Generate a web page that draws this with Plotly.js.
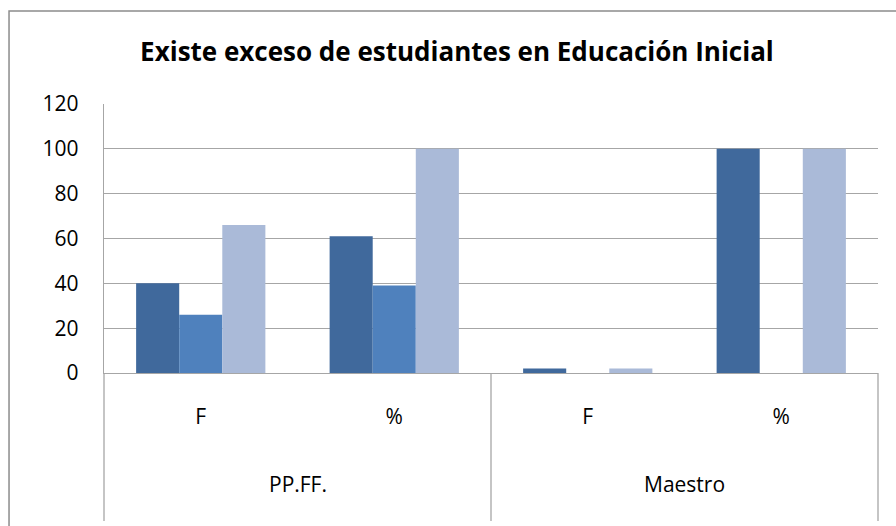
<!DOCTYPE html>
<html>
<head>
<meta charset="utf-8">
<script src="https://cdn.plot.ly/plotly-3.0.1.min.js"></script>
<style>html,body{margin:0;padding:0;background:#fff;}#chart{width:896px;height:526px;}</style>
</head>
<body>
<div id="chart"></div>
<script>
// Data
var groups = ["PP.FF.", "PP.FF.", "Maestro", "Maestro"];
var subs = ["F", "%", "F", "%"];
var groupLabels = ["PP.FF.", "Maestro"];
var series1 = [40, 61, 2, 100];
var series2 = [26, 39, 0, 0];
var series3 = [66, 100, 2, 100];
var yTicks = [0, 20, 40, 60, 80, 100, 120];
var titleText = "Existe exceso de estudiantes en Educación Inicial";

var cats = groups.map(function (g, i) { return g + " " + subs[i]; });
var colors = ["#40699C", "#4F81BD", "#AABAD8"];
var seriesList = [series1, series2, series3];

var traces = seriesList.map(function (s, k) {
  return {
    type: "bar", x: cats, y: s,
    marker: {color: colors[k], line: {width: 0}},
    hoverinfo: "y", showlegend: false
  };
});

var FONT = "'Open Sans', Lato, sans-serif";
var shapes = [
  // outer chart border
  {type: "rect", xref: "paper", yref: "paper", x0: -0.1227, x1: 1.2, y0: -0.8, y1: 1.3457,
   line: {color: "#8C8C8C", width: 1.5}, fillcolor: "rgba(0,0,0,0)", layer: "below"}
];
[0, 0.5, 1].forEach(function (px) {
  shapes.push({type: "line", xref: "paper", yref: "paper", x0: px, x1: px, y0: 0, y1: -0.55,
    line: {color: "#A6A6A6", width: 1.3}});
});

var annotations = groupLabels.map(function (g, i) {
  return {text: g, xref: "paper", yref: "paper", x: 0.25 + 0.5 * i, y: -0.4126,
    xanchor: "center", yanchor: "middle", showarrow: false,
    font: {family: FONT, size: 21, color: "#000"}};
});

var layout = {
  width: 896, height: 526,
  margin: {l: 104, r: 18, t: 104, b: 153},
  paper_bgcolor: "#fff", plot_bgcolor: "#fff",
  title: {text: "<b>" + titleText + "</b>", xref: "container", x: 0.51, xanchor: "center",
    yref: "container", y: 0.901, yanchor: "middle",
    font: {family: FONT, size: 26, color: "#000"}},
  barmode: "group", bargap: 0.332, bargroupgap: 0,
  xaxis: {type: "category", tickvals: cats, ticktext: subs, showgrid: false,
    showline: true, linecolor: "#A6A6A6", linewidth: 1.3, ticks: "",
    ticklabelstandoff: 24, tickfont: {family: FONT, size: 21, color: "#000"},
    fixedrange: true},
  yaxis: {range: [0, 120], tickvals: yTicks, showgrid: true, gridcolor: "#A6A6A6", gridwidth: 1.3,
    showline: true, linecolor: "#A6A6A6", linewidth: 1.3, ticks: "", zeroline: false,
    ticklabelstandoff: 20, tickfont: {family: FONT, size: 21, color: "#000"},
    fixedrange: true},
  shapes: shapes,
  annotations: annotations
};

Plotly.newPlot("chart", traces, layout, {displayModeBar: false, staticPlot: true});
</script>
</body>
</html>
